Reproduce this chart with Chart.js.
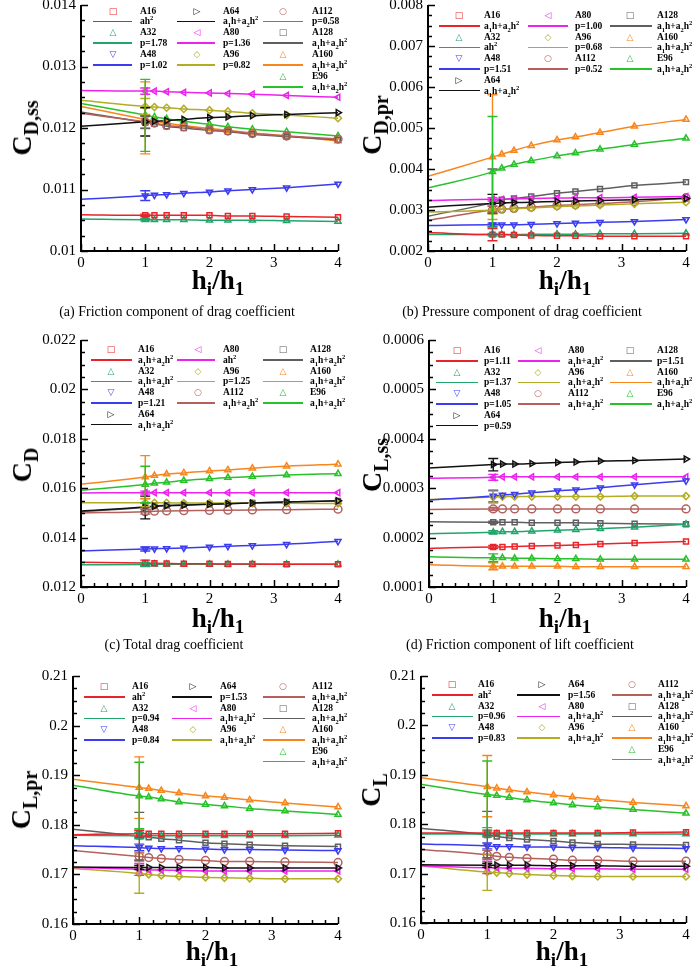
<!DOCTYPE html>
<html>
<head>
<meta charset="utf-8">
<script src="https://cdn.jsdelivr.net/npm/chart.js@4.4.1/dist/chart.umd.min.js"></script>
<style>
  body { margin:0; width:700px; height:980px; position:relative; overflow:hidden; background:#fff; font-family:"Liberation Serif", serif; color:#000; }
  canvas { position:absolute; }
  .lg { position:absolute; font-weight:bold; font-size:9.5px; line-height:10px; white-space:nowrap; transform:translateY(-50%); }
  .lg sub, .lg sup { font-size:6.5px; line-height:0; }
  .mk { position:absolute; font-family:"DejaVu Sans", sans-serif; font-weight:bold; font-size:9px; line-height:9px; transform:translate(-50%,-50%); }
  .ln { position:absolute; height:1.7px; }
  .yt { position:absolute; font-weight:bold; font-size:28px; white-space:nowrap; transform:translate(-50%,-50%) rotate(-90deg); line-height:1; }
  .yt sub { font-size:20px; line-height:0; }
  .xt { position:absolute; font-weight:bold; font-size:27px; white-space:nowrap; transform:translate(-50%,-50%); line-height:1; }
  .xt sub { font-size:19px; line-height:0; }
  .cap { position:absolute; font-size:14px; white-space:nowrap; transform:translate(-50%,-50%); }
</style>
</head>
<body>
<script>
// =========================
// DATA
// =========================
const SERIES = ['A16','A32','A48','A64','A80','A96','A112','A128','A160','E96'];
const XS = [1, 1.143, 1.333, 1.6, 2, 2.286, 2.667, 3.2, 4];   // h_i/h_1 of the grids
const X_TICKS = [0, 1, 2, 3, 4];
const X_LABELS = ['0','1','2','3','4'];

// (a) C_D,ss
const cdssAt0 = [0.01059,0.01052,0.01084,0.01203,0.01261,0.01245,0.01224,0.01226,0.01235,0.01240];
const cdssPts = [
  [0.01058,0.01058,0.01058,0.01058,0.01058,0.01057,0.01057,0.01056,0.01055],
  [0.01051,0.01051,0.01051,0.01051,0.01050,0.01050,0.01050,0.01049,0.01048],
  [0.01090,0.01091,0.01092,0.01094,0.01096,0.01098,0.01100,0.01103,0.01109],
  [0.01210,0.01211,0.01212,0.01214,0.01217,0.01218,0.01220,0.01222,0.01225],
  [0.01260,0.01260,0.01259,0.01258,0.01257,0.01256,0.01255,0.01253,0.01250],
  [0.01235,0.01234,0.01233,0.01231,0.01229,0.01227,0.01224,0.01221,0.01216],
  [0.01210,0.01208,0.01204,0.01202,0.01197,0.01195,0.01191,0.01187,0.01182],
  [0.01209,0.01207,0.01203,0.01200,0.01196,0.01194,0.01190,0.01186,0.01181],
  [0.01214,0.01211,0.01208,0.01204,0.01199,0.01196,0.01192,0.01187,0.01179],
  [0.01221,0.01218,0.01215,0.01211,0.01206,0.01202,0.01198,0.01194,0.01187]
];
const cdssErr = [[0.01056,0.01060],[0.01049,0.01053],[0.01082,0.01098],[0.01187,0.01233],[0.01255,0.01265],
                 [0.01222,0.01248],[0.01200,0.01220],[0.01199,0.01219],[0.01158,0.01275],[0.01162,0.01279]];
const cdssFit = ['ah2','p=1.78','p=1.02','quad','p=1.36','p=0.82','p=0.58','quad','quad','quad'];
const cdssTicks = [0.010,0.011,0.012,0.013,0.014];
const cdssLabels = ['0.01','0.011','0.012','0.013','0.014'];

// (b) C_D,pr
const cdprAt0 = [0.00245,0.00240,0.00262,0.00307,0.00323,0.00295,0.00275,0.00285,0.00382,0.00354];
const cdprPts = [
  [0.00240,0.00240,0.00239,0.00238,0.00237,0.00237,0.00236,0.00236,0.00236],
  [0.00240,0.00240,0.00240,0.00241,0.00241,0.00241,0.00242,0.00242,0.00243],
  [0.00264,0.00264,0.00264,0.00265,0.00267,0.00268,0.00270,0.00272,0.00277],
  [0.00316,0.00317,0.00318,0.00319,0.00321,0.00322,0.00323,0.00325,0.00328],
  [0.00326,0.00326,0.00327,0.00328,0.00329,0.00330,0.00330,0.00331,0.00333],
  [0.00300,0.00302,0.00303,0.00305,0.00308,0.00310,0.00312,0.00315,0.00319],
  [0.00300,0.00302,0.00304,0.00307,0.00311,0.00313,0.00316,0.00320,0.00330],
  [0.00318,0.00325,0.00328,0.00333,0.00341,0.00345,0.00351,0.00360,0.00368],
  [0.00429,0.00436,0.00445,0.00457,0.00471,0.00478,0.00489,0.00504,0.00521],
  [0.00393,0.00402,0.00411,0.00420,0.00432,0.00439,0.00448,0.00460,0.00475]
];
const cdprErr = [[0.00225,0.00255],[0.00237,0.00243],[0.00260,0.00268],[0.00292,0.00338],[0.00322,0.00330],
                 [0.00290,0.00310],[0.00295,0.00309],[0.00240,0.00400],[0.00277,0.00581],[0.00258,0.00528]];
const cdprFit = ['quad','ah2','p=1.51','quad','p=1.00','p=0.68','p=0.52','quad','quad','quad'];
const cdprTicks = [0.002,0.003,0.004,0.005,0.006,0.007,0.008];
const cdprLabels = ['0.002','0.003','0.004','0.005','0.006','0.007','0.008'];

// (c) C_D
const cdAt0 = [0.01300,0.01290,0.01346,0.01508,0.01581,0.01541,0.01500,0.01505,0.01616,0.01592];
const cdPts = [
  [0.01297,0.01296,0.01295,0.01294,0.01294,0.01293,0.01293,0.01292,0.01292],
  [0.01291,0.01292,0.01292,0.01292,0.01292,0.01292,0.01292,0.01292,0.01292],
  [0.01354,0.01355,0.01356,0.01358,0.01362,0.01365,0.01368,0.01373,0.01385],
  [0.01524,0.01527,0.01529,0.01531,0.01535,0.01537,0.01540,0.01544,0.01549],
  [0.01582,0.01582,0.01582,0.01582,0.01582,0.01582,0.01582,0.01582,0.01582],
  [0.01541,0.01541,0.01541,0.01540,0.01540,0.01540,0.01539,0.01539,0.01538],
  [0.01505,0.01507,0.01508,0.01509,0.01510,0.01511,0.01512,0.01513,0.01515],
  [0.01523,0.01528,0.01531,0.01533,0.01536,0.01538,0.01540,0.01544,0.01548],
  [0.01645,0.01651,0.01657,0.01662,0.01670,0.01674,0.01681,0.01689,0.01697],
  [0.01615,0.01620,0.01624,0.01631,0.01638,0.01643,0.01647,0.01653,0.01659]
];
const cdErr = [[0.01285,0.01309],[0.01283,0.01299],[0.01346,0.01362],[0.01476,0.01568],[0.01576,0.01588],
               [0.01525,0.01557],[0.01495,0.01515],[0.01505,0.01541],[0.01558,0.01732],[0.01541,0.01689]];
const cdFit = ['quad','quad','p=1.21','quad','ah2','p=1.25','quad','quad','quad','quad'];
const cdTicks = [0.012,0.014,0.016,0.018,0.020,0.022];
const cdLabels = ['0.012','0.014','0.016','0.018','0.02','0.022'];

// (d) C_L,ss
const clssAt0 = [0.000178,0.000208,0.000276,0.000341,0.000320,0.000277,0.000257,0.000232,0.000145,0.000161];
const clssPts = [
  [0.000181,0.000181,0.000182,0.000183,0.000184,0.000185,0.000187,0.000189,0.000192],
  [0.000211,0.000212,0.000212,0.000213,0.000215,0.000216,0.000218,0.000221,0.000227],
  [0.000284,0.000286,0.000288,0.000291,0.000295,0.000297,0.000301,0.000307,0.000315],
  [0.000348,0.000349,0.000349,0.000350,0.000352,0.000353,0.000355,0.000356,0.000359],
  [0.000322,0.000323,0.000323,0.000323,0.000323,0.000323,0.000323,0.000323,0.000323],
  [0.000282,0.000283,0.000283,0.000283,0.000283,0.000283,0.000283,0.000284,0.000284],
  [0.000258,0.000258,0.000258,0.000258,0.000258,0.000258,0.000258,0.000258,0.000258],
  [0.000231,0.000231,0.000231,0.000230,0.000230,0.000230,0.000229,0.000228,0.000227],
  [0.000142,0.000142,0.000142,0.000142,0.000142,0.000141,0.000141,0.000141,0.000141],
  [0.000159,0.000159,0.000158,0.000158,0.000157,0.000157,0.000156,0.000156,0.000156]
];
const clssErr = [[0.000178,0.000184],[0.000208,0.000214],[0.000272,0.000296],[0.000335,0.000360],[0.000316,0.000328],
                 [0.000270,0.000294],[0.000255,0.000261],[0.000229,0.000233],[0.000135,0.000149],[0.000151,0.000167]];
const clssFit = ['p=1.11','p=1.37','p=1.05','p=0.59','quad','quad','quad','p=1.51','quad','quad'];
const clssTicks = [0.0001,0.0002,0.0003,0.0004,0.0005,0.0006];
const clssLabels = ['0.0001','0.0002','0.0003','0.0004','0.0005','0.0006'];

// (e) C_L,pr
const clprAt0 = [0.1780,0.1779,0.1758,0.1715,0.1714,0.1712,0.1748,0.1791,0.1892,0.1880];
const clprPts = [
  [0.1782,0.1782,0.1782,0.1782,0.1782,0.1782,0.1782,0.1782,0.1783],
  [0.1778,0.1778,0.1778,0.1778,0.1778,0.1778,0.1778,0.1778,0.1779],
  [0.1754,0.1753,0.1752,0.1752,0.1751,0.1750,0.1750,0.1749,0.1748],
  [0.1714,0.1714,0.1714,0.1714,0.1714,0.1713,0.1713,0.1713,0.1713],
  [0.1710,0.1709,0.1709,0.1708,0.1707,0.1707,0.1707,0.1707,0.1707],
  [0.1702,0.1700,0.1698,0.1696,0.1694,0.1693,0.1692,0.1691,0.1691],
  [0.1736,0.1734,0.1732,0.1730,0.1728,0.1726,0.1726,0.1725,0.1724],
  [0.1777,0.1775,0.1772,0.1769,0.1764,0.1762,0.1760,0.1758,0.1756],
  [0.1875,0.1873,0.1869,0.1864,0.1858,0.1855,0.1850,0.1844,0.1836],
  [0.1858,0.1856,0.1852,0.1846,0.1841,0.1838,0.1833,0.1828,0.1821]
];
const clprErr = [[0.1775,0.1789],[0.1772,0.1785],[0.1748,0.1761],[0.1710,0.1718],[0.1698,0.1722],
                 [0.1662,0.1742],[0.1727,0.1745],[0.1729,0.1825],[0.1813,0.1937],[0.1792,0.1926]];
const clprFit = ['ah2','p=0.94','p=0.84','p=1.53','quad','quad','quad','quad','quad','quad'];

// (f) C_L
const clAt0 = [0.1782,0.1780,0.1760,0.1718,0.1716,0.1716,0.1749,0.1792,0.1894,0.1881];
const clPts = [
  [0.1782,0.1782,0.1782,0.1782,0.1782,0.1782,0.1782,0.1783,0.1784],
  [0.1780,0.1780,0.1780,0.1780,0.1780,0.1780,0.1780,0.1780,0.1780],
  [0.1756,0.1755,0.1755,0.1754,0.1754,0.1753,0.1753,0.1752,0.1751],
  [0.1717,0.1717,0.1717,0.1717,0.1716,0.1716,0.1716,0.1715,0.1715],
  [0.1712,0.1712,0.1711,0.1711,0.1710,0.1710,0.1710,0.1709,0.1709],
  [0.1703,0.1702,0.1700,0.1698,0.1696,0.1695,0.1694,0.1694,0.1694],
  [0.1738,0.1735,0.1733,0.1731,0.1729,0.1727,0.1727,0.1725,0.1725],
  [0.1778,0.1775,0.1772,0.1769,0.1766,0.1763,0.1760,0.1759,0.1758],
  [0.1876,0.1873,0.1869,0.1865,0.1859,0.1855,0.1850,0.1844,0.1837],
  [0.1860,0.1858,0.1854,0.1849,0.1843,0.1839,0.1835,0.1830,0.1822]
];
const clErr = [[0.1776,0.1788],[0.1774,0.1786],[0.1750,0.1762],[0.1713,0.1721],[0.1700,0.1725],
               [0.1666,0.1740],[0.1729,0.1747],[0.1732,0.1826],[0.1815,0.1939],[0.1793,0.1928]];
const clFit = ['ah2','p=0.96','p=0.83','p=1.56','quad','quad','quad','quad','quad','quad'];
const clTicks = [0.16,0.17,0.18,0.19,0.20,0.21];
const clLabels = ['0.16','0.17','0.18','0.19','0.2','0.21'];

// =========================
// STYLE
// =========================
const COLORS = ['#e8242a','#22a56b','#3b3bf0','#111111','#ee22ee','#b3ad25','#b5605c','#5f5f5f','#f8861c','#27c22a'];
const GLYPHS = ['\u25A1','\u25B3','\u25BD','\u25B7','\u25C1','\u25C7','\u25CB','\u25A1','\u25B3','\u25B3'];
const POINTS = [['rect',0,3.5],['triangle',0,3.5],['triangle',180,3.5],['triangle',90,3.5],['triangle',270,3.5],
                ['rectRot',0,3.5],['circle',0,3.9],['rect',0,3.5],['triangle',0,3.5],['triangle',0,3.5]];
const FIT_HTML = { ah2: 'ah<sup>2</sup>', quad: 'a<sub>1</sub>h+a<sub>2</sub>h<sup>2</sup>' };
const COLS_A = [[0,1,2],[3,4,5],[6,7,8,9]];
const COLS_B = [[0,1,2,3],[4,5,6],[7,8,9]];
const TICK_FONT = { family: 'Liberation Serif', size: 15 };

function add(cls, html, css) {
  const el = document.createElement('div');
  el.className = cls;
  el.innerHTML = html;
  Object.assign(el.style, css);
  document.body.appendChild(el);
  return el;
}

// =========================
// ONE PANEL
// =========================
function panel(p) {
  const cv = document.createElement('canvas');
  cv.width = p.r - p.l + 110;
  cv.height = p.b - p.t + 70;
  cv.style.left = (p.l - 90) + 'px';
  cv.style.top = (p.t - 20) + 'px';
  document.body.appendChild(cv);

  const datasets = [];
  SERIES.forEach((name, i) => {
    datasets.push({
      label: name + ' fit',
      data: [{ x: 0, y: p.at0[i] }].concat(XS.map((x, j) => ({ x, y: p.pts[i][j] }))),
      borderColor: COLORS[i], borderWidth: 1.5, pointRadius: 0,
      cubicInterpolationMode: 'monotone', order: 2
    });
    datasets.push({
      label: name,
      data: XS.map((x, j) => ({ x, y: p.pts[i][j] })),
      showLine: false, pointStyle: POINTS[i][0], rotation: POINTS[i][1], pointRadius: POINTS[i][2],
      borderColor: COLORS[i], backgroundColor: 'rgba(0,0,0,0)', pointBorderWidth: 1.5,
      clip: false, order: 1
    });
  });

  // inward ticks + left/bottom axis lines
  const frame = {
    id: 'frame',
    afterDraw(chart) {
      const { ctx, chartArea: a, scales: { x, y } } = chart;
      ctx.save();
      ctx.strokeStyle = '#000';
      ctx.lineWidth = 1.5;
      const xs = X_TICKS[X_TICKS.length - 1] - X_TICKS[0];
      for (let k = 0; k <= xs * 5; k++) {
        const v = X_TICKS[0] + k * 0.2, px = Math.round(x.getPixelForValue(v)) + 0.5;
        const len = k % 5 === 0 ? 7 : 4;
        ctx.beginPath(); ctx.moveTo(px, a.bottom); ctx.lineTo(px, a.bottom - len); ctx.stroke();
      }
      const yt = p.yTicks, step = (yt[1] - yt[0]) / 4;
      for (let k = 0; k <= (yt.length - 1) * 4; k++) {
        const v = yt[0] + k * step, py = Math.round(y.getPixelForValue(v)) + 0.5;
        const len = k % 4 === 0 ? 7 : 4;
        ctx.beginPath(); ctx.moveTo(a.left, py); ctx.lineTo(a.left + len, py); ctx.stroke();
      }
      ctx.lineWidth = 2;
      ctx.beginPath();
      ctx.moveTo(a.left, a.top); ctx.lineTo(a.left, a.bottom); ctx.lineTo(a.right, a.bottom);
      ctx.stroke();
      ctx.restore();
    }
  };

  // error bars at the finest grid
  const errbars = {
    id: 'errbars',
    afterDatasetsDraw(chart) {
      const { ctx, scales: { x, y } } = chart;
      const px = x.getPixelForValue(XS[0]);
      ctx.save();
      ctx.lineWidth = 1.4;
      p.err.forEach((e, i) => {
        const y0 = y.getPixelForValue(e[0]), y1 = y.getPixelForValue(e[1]);
        ctx.strokeStyle = COLORS[i];
        ctx.beginPath();
        ctx.moveTo(px, y0); ctx.lineTo(px, y1);
        ctx.moveTo(px - 5, y0); ctx.lineTo(px + 5, y0);
        ctx.moveTo(px - 5, y1); ctx.lineTo(px + 5, y1);
        ctx.stroke();
      });
      ctx.restore();
    }
  };

  new Chart(cv, {
    type: 'line',
    data: { datasets },
    options: {
      responsive: false,
      animation: false,
      devicePixelRatio: 1,
      layout: { padding: { left: 0, top: 20, right: 20, bottom: 0 } },
      plugins: { legend: { display: false }, tooltip: { enabled: false } },
      scales: {
        x: {
          type: 'linear', min: 0, max: 4,
          afterBuildTicks: s => { s.ticks = X_TICKS.map(v => ({ value: v })); },
          afterFit: s => { s.height = 50; },
          grid: { display: false, drawTicks: false }, border: { display: false },
          ticks: { callback: (v, i) => X_LABELS[i], font: TICK_FONT, color: '#000', padding: 3, maxRotation: 0, autoSkip: false }
        },
        y: {
          type: 'linear', min: p.yTicks[0], max: p.yTicks[p.yTicks.length - 1],
          afterBuildTicks: s => { s.ticks = p.yTicks.map(v => ({ value: v })); },
          afterFit: s => { s.width = 90; },
          grid: { display: false, drawTicks: false }, border: { display: false },
          ticks: { callback: (v, i) => p.yLabels[i], font: TICK_FONT, color: '#000', padding: 5, autoSkip: false }
        }
      }
    },
    plugins: [frame, errbars]
  });

  // legend (marker + name row, line + fit row)
  p.cols.forEach((col, c) => {
    const cs = p.legX[c];
    col.forEach((i, k) => {
      const yA = p.legY + 2 * k * p.pitch, yB = yA + p.pitch;
      add('mk', GLYPHS[i], { left: cs[2] + 'px', top: yA + 'px', color: COLORS[i] });
      add('lg', SERIES[i], { left: cs[3] + 'px', top: yA + 'px' });
      add('ln', '', { left: cs[0] + 'px', top: (yB - 0.8) + 'px', width: (cs[1] - cs[0]) + 'px', background: COLORS[i] });
      add('lg', FIT_HTML[p.fit[i]] || p.fit[i], { left: cs[3] + 'px', top: yB + 'px' });
    });
  });

  add('yt', p.yTitle, { left: p.yTitleAt[0] + 'px', top: p.yTitleAt[1] + 'px' });
  add('xt', 'h<sub>i</sub>/h<sub>1</sub>', { left: p.xTitleAt[0] + 'px', top: p.xTitleAt[1] + 'px' });
  if (p.caption) add('cap', p.caption, { left: p.capAt[0] + 'px', top: p.capAt[1] + 'px' });
}

// =========================
// PANELS
// =========================
panel({ l: 81, t: 5, r: 338, b: 251, at0: cdssAt0, pts: cdssPts, err: cdssErr, fit: cdssFit,
  yTicks: cdssTicks, yLabels: cdssLabels, cols: COLS_A,
  legX: [[93,132,113,140],[177,215,197,223],[263,303,283,312]], legY: 10.5, pitch: 10.9,
  yTitle: 'C<sub>D,ss</sub>', yTitleAt: [22,128], xTitleAt: [218,280],
  caption: '(a) Friction component of drag coefficient', capAt: [177,312] });

panel({ l: 428, t: 5, r: 686, b: 251, at0: cdprAt0, pts: cdprPts, err: cdprErr, fit: cdprFit,
  yTicks: cdprTicks, yLabels: cdprLabels, cols: COLS_B,
  legX: [[439,480,459,484],[528,568,548,575],[610,652,630,657]], legY: 15, pitch: 10.8,
  yTitle: 'C<sub>D,pr</sub>', yTitleAt: [372,125], xTitleAt: [565,280],
  caption: '(b) Pressure component of drag coefficient', capAt: [522,312] });

panel({ l: 81, t: 340, r: 338, b: 587, at0: cdAt0, pts: cdPts, err: cdErr, fit: cdFit,
  yTicks: cdTicks, yLabels: cdLabels, cols: COLS_B,
  legX: [[91,132,111,138],[177,215,198,223],[263,303,283,310]], legY: 349, pitch: 10.8,
  yTitle: 'C<sub>D</sub>', yTitleAt: [22,465], xTitleAt: [218,618],
  caption: '(c) Total drag coefficient', capAt: [174,645] });

panel({ l: 429, t: 340, r: 686, b: 587, at0: clssAt0, pts: clssPts, err: clssErr, fit: clssFit,
  yTicks: clssTicks, yLabels: clssLabels, cols: COLS_B,
  legX: [[436,478,457,484],[518,560,538,568],[610,652,630,657]], legY: 350, pitch: 10.8,
  yTitle: 'C<sub>L,ss</sub>', yTitleAt: [372,465], xTitleAt: [565,618],
  caption: '(d) Friction component of lift coefficient', capAt: [520,645] });

panel({ l: 73, t: 676, r: 338, b: 924, at0: clprAt0, pts: clprPts, err: clprErr, fit: clprFit,
  yTicks: clTicks, yLabels: clLabels, cols: COLS_A,
  legX: [[84,125,104,132],[172,212,193,220],[263,305,283,312]], legY: 686, pitch: 10.8,
  yTitle: 'C<sub>L,pr</sub>', yTitleAt: [21,800], xTitleAt: [212,951] });

panel({ l: 421, t: 676, r: 686, b: 923, at0: clAt0, pts: clPts, err: clErr, fit: clFit,
  yTicks: clTicks, yLabels: clLabels, cols: COLS_A,
  legX: [[432,473,452,478],[517,560,542,568],[612,652,632,658]], legY: 684, pitch: 10.8,
  yTitle: 'C<sub>L</sub>', yTitleAt: [371,790], xTitleAt: [562,951] });
</script>
</body>
</html>
